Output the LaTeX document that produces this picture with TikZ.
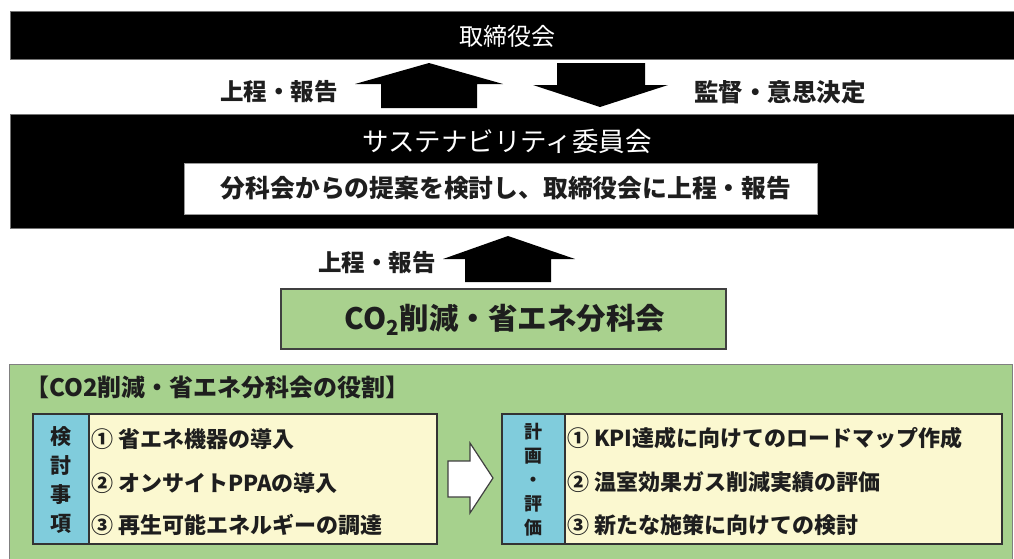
\documentclass[tikz,border=0pt]{standalone}
\usepackage{fontspec}
\setmainfont{Noto Sans CJK JP}
\definecolor{grn}{HTML}{A6D18D}
\definecolor{grnbox}{HTML}{A9D18E}
\definecolor{blu}{HTML}{80CCDC}
\definecolor{ylw}{HTML}{FBF8D0}
\definecolor{txt}{HTML}{1E1E1E}
\tikzset{
  bar/.style={fill=black,draw=black!55,line width=0.8pt},
  wtitle/.style={text=white,font=\fontsize{24}{26}\selectfont,inner sep=0pt},
  lbl/.style={text=txt,font=\bfseries\fontsize{23.5}{25}\selectfont,inner sep=0pt},
  blockarrow/.style={fill=black},
  item/.style={text=txt,font=\bfseries\fontsize{22}{24}\selectfont,inner sep=0pt,anchor=west},
  colbox/.style={fill=blu,draw=black!80,line width=1.2pt},
  itembox/.style={fill=ylw,draw=black!80,line width=1.2pt},
}
\newcommand{\cnum}[1]{#1\hspace{5pt}}
\begin{document}
\begin{tikzpicture}[x=1pt,y=-1pt]
\useasboundingbox (0,0) rectangle (1014,558);
% top bar
\fill[bar] (10,11) rectangle (1020,59);
\node[wtitle] (board) at (507,36) {取締役会};
% arrows between top bars
\fill[blockarrow] (429,63) -- (503,84) -- (477,84) -- (477,108) -- (381,108) -- (381,84) -- (355,84) -- cycle;
\fill[blockarrow] (557,63) -- (645,63) -- (645,85) -- (668,85) -- (600,107) -- (533,85) -- (557,85) -- cycle;
\node[lbl,anchor=east] (up1) at (338,92) {上程・報告};
\node[lbl,anchor=west,font=\bfseries\fontsize{24.5}{26}\selectfont] (down1) at (694,92) {監督・意思決定};
% second bar
\fill[bar] (10,114) rectangle (1020,228);
\node[wtitle,font=\fontsize{26.5}{28}\selectfont] (sus) at (507,141) {サステナビリティ委員会};
\draw[fill=white,draw=black!40,line width=0.8pt] (184,163) rectangle (817,214);
\node[lbl,font=\bfseries\fontsize{24.8}{26}\selectfont] (prop) at (506,188.5) {分科会からの提案を検討し、取締役会に上程・報告};
% arrow up from sub-committee
\fill[blockarrow] (508,236) -- (575,259) -- (551,259) -- (551,282) -- (465,282) -- (465,259) -- (443,259) -- cycle;
\node[lbl,anchor=east] (up2) at (436,263) {上程・報告};
% CO2 box
\draw[fill=grnbox,draw=black!75,line width=1.5pt] (281,289) rectangle (726,349);
\node[lbl,font=\bfseries\fontsize{29.5}{31}\selectfont] (co2) at (505,320) {CO\textsubscript{2}削減・省エネ分科会};
% bottom green panel
\draw[fill=grn,draw=black!50,line width=1pt] (9,364) rectangle (1012,565);
\node[lbl,anchor=west,font=\bfseries\fontsize{24}{26}\selectfont] (role) at (25,387) {【CO2削減・省エネ分科会の役割】};
% left inner box
\draw[itembox] (33,414) rectangle (437,544);
\draw[colbox] (33,414) rectangle (89,544);
\node[lbl,align=center,font=\bfseries\fontsize{21}{29}\selectfont] (kento) at (61,480) {検\\討\\事\\項};
\node[item] (l1) at (91,439) {\cnum{①}省エネ機器の導入};
\node[item] (l2) at (91,483) {\cnum{②}オンサイトPPAの導入};
\node[item] (l3) at (91,525) {\cnum{③}再生可能エネルギーの調達};
% hollow arrow
\draw[fill=white,draw=black!75,line width=1.2pt,line join=miter] (448,461) -- (470,461) -- (470,443) -- (493,478) -- (470,513) -- (470,497) -- (448,497) -- cycle;
% right inner box
\draw[itembox] (502,414) rectangle (1002,544);
\draw[colbox] (502,414) rectangle (565,544);
\node[lbl,align=center,font=\bfseries\fontsize{18}{24}\selectfont] (keikaku) at (533.5,479.5) {計\\画\\・\\評\\価};
\node[item] (r1) at (567,438) {\cnum{①}KPI達成に向けてのロードマップ作成};
\node[item] (r2) at (567,482) {\cnum{②}温室効果ガス削減実績の評価};
\node[item] (r3) at (567,525) {\cnum{③}新たな施策に向けての検討};
\end{tikzpicture}
\end{document}
